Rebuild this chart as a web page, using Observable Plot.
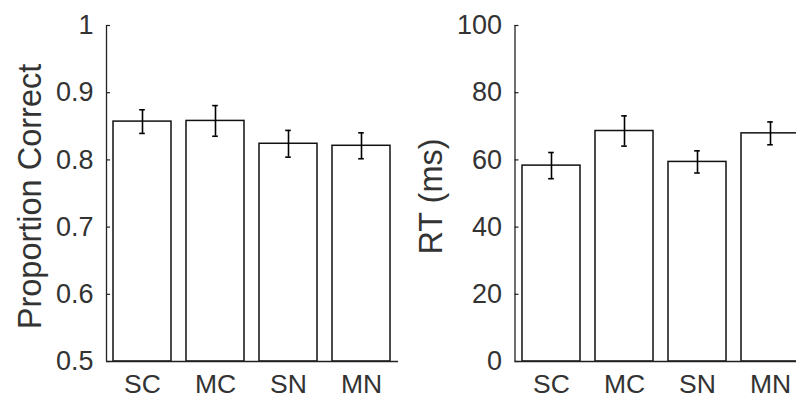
<!DOCTYPE html>
<html><head><meta charset="utf-8">
<script src="https://cdn.jsdelivr.net/npm/d3@7"></script>
<script src="https://cdn.jsdelivr.net/npm/@observablehq/plot@0.6"></script>
<style>
html,body{margin:0;padding:0;background:#fff;overflow:hidden;width:796px;height:398px}
#wrap{display:flex;flex-wrap:nowrap;width:830px}
#wrap svg{display:block;flex:none}
</style></head><body><div id="wrap"></div>
<script>
const conditions = ["SC", "MC", "SN", "MN"];
const accuracyMean = [0.857, 0.858, 0.824, 0.821];
const accuracyErr = [0.0176, 0.0228, 0.0199, 0.0193];
const rtMean = [58.3, 68.6, 59.4, 67.9];
const rtErr = [3.9, 4.5, 3.3, 3.4];
const accuracyTicks = [0.5, 0.6, 0.7, 0.8, 0.9, 1];
const rtTicks = [0, 20, 40, 60, 80, 100];
const accuracyLabel = "Proportion Correct";
const rtLabel = "RT (ms)";

const FONT = "'Liberation Sans', Arial, Helvetica, sans-serif";
const TEXT = "#333333";
const FRAME_W = 292;

function panel({means, errs, domain, ticks, label, marginLeft, labelDx}) {
  const width = marginLeft + FRAME_W + 2;
  const data = conditions.map((c, i) => ({c, base: domain[0], m: means[i], lo: means[i] - errs[i], hi: means[i] + errs[i]}));
  return Plot.plot({
    width, height: 398, marginLeft, marginRight: 2, marginTop: 25, marginBottom: 37,
    style: {fontFamily: FONT, color: "#000", background: "#fff", overflow: "visible"},
    x: {domain: conditions, paddingInner: 0.2, paddingOuter: 0.1, axis: null},
    y: {domain, axis: null},
    marks: [
      Plot.barY(data, {x: "c", y1: "base", y2: "m", fill: "white", stroke: "#111", strokeWidth: 1.5}),
      Plot.ruleX(data, {x: "c", y1: "lo", y2: "hi", stroke: "#000", strokeWidth: 1.6}),
      Plot.tickY(data, {x: "c", y: "lo", insetLeft: 26.2, insetRight: 26.2, stroke: "#000", strokeWidth: 1.6}),
      Plot.tickY(data, {x: "c", y: "hi", insetLeft: 26.2, insetRight: 26.2, stroke: "#000", strokeWidth: 1.6}),
      // axis lines
      Plot.ruleY([domain[0]], {stroke: "#222", strokeWidth: 1.3}),
      Plot.ruleX([domain], {x: null, y1: d => d[0], y2: d => d[1], dx: -FRAME_W / 2, stroke: "#222", strokeWidth: 1.3}),
      // inward ticks
      Plot.tickY(ticks, {y: d => d, insetRight: FRAME_W - 4, stroke: "#222", strokeWidth: 1.2}),
      // tick labels
      Plot.text(ticks, {y: d => d, text: d => String(d), frameAnchor: "left", dx: -13, textAnchor: "end", fontSize: 27, fill: TEXT}),
      Plot.text(conditions, {x: d => d, text: d => d, frameAnchor: "bottom", dy: 12.5, lineAnchor: "top", fontSize: 26.5, fill: TEXT}),
      // axis label
      Plot.text([label], {text: d => d, frameAnchor: "left", rotate: -90, dx: labelDx, dy: 3, fontSize: 32.5, fill: TEXT, textAnchor: "middle", lineAnchor: "bottom"})
    ]
  });
}

const wrap = document.getElementById("wrap");
wrap.appendChild(panel({means: accuracyMean, errs: accuracyErr, domain: [0.5, 1], ticks: accuracyTicks, label: accuracyLabel, marginLeft: 106, labelDx: -66}));
wrap.appendChild(panel({means: rtMean, errs: rtErr, domain: [0, 100], ticks: rtTicks, label: rtLabel, marginLeft: 114.5, labelDx: -73.5}));
</script></body></html>
